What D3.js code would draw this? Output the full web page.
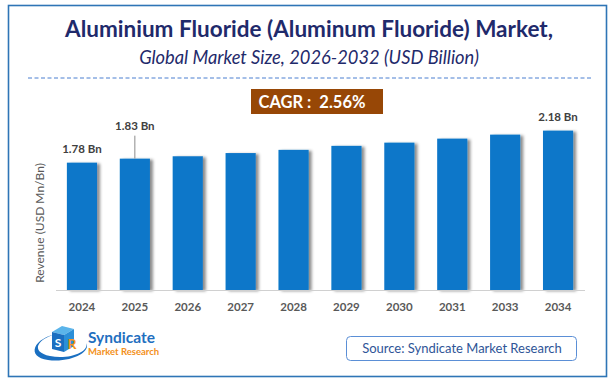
<!DOCTYPE html>
<html>
<head>
<meta charset="utf-8">
<script src="https://cdn.jsdelivr.net/npm/d3@7"></script>
<style>
    body { margin: 0; background: #fff; }
    svg text { font-family: Lato, "Open Sans", sans-serif; }
</style>
</head>
<body>
<svg id="chart" width="614" height="384"></svg>
<script>
    var years = ["2024", "2025", "2026", "2027", "2028", "2029", "2030", "2031", "2033", "2034"];
    var revenue = [1.78, 1.83, 1.86, 1.90, 1.94, 1.99, 2.03, 2.08, 2.13, 2.18];
    var labelled = {"2024": "1.78 Bn", "2025": "1.83 Bn", "2034": "2.18 Bn"};

    var svg = d3.select("#chart");

    // drop shadow on the bars
    var defs = svg.append("defs");
    var f = defs.append("filter").attr("id", "shadow")
        .attr("x", "-20%").attr("y", "-5%").attr("width", "150%").attr("height", "115%");
    f.append("feDropShadow").attr("dx", 3).attr("dy", 1).attr("stdDeviation", 1.4)
        .attr("flood-color", "#000").attr("flood-opacity", 0.45);

    // frame
    svg.append("rect").attr("x", 8.5).attr("y", 5.5).attr("width", 598).attr("height", 371)
        .attr("fill", "none").attr("stroke", "#2e75b6").attr("stroke-width", 1.6);

    svg.append("text").attr("x", 309).attr("y", 37).attr("text-anchor", "middle")
        .attr("font-size", 22.5).attr("font-weight", "bold").attr("fill", "#1f2a6b")
        .text("Aluminium Fluoride (Aluminum Fluoride) Market,");

    svg.append("text").attr("x", 309).attr("y", 64).attr("text-anchor", "middle")
        .attr("font-size", 18.3).attr("font-style", "italic").attr("fill", "#1f2a6b")
        .text("Global Market Size, 2026-2032 (USD Billion)");

    svg.append("line").attr("x1", 28).attr("x2", 591).attr("y1", 78).attr("y2", 78)
        .attr("stroke", "#4a7fd0").attr("stroke-width", 1).attr("stroke-dasharray", "4,2.5");

    // CAGR badge
    svg.append("rect").attr("x", 251).attr("y", 89).attr("width", 132).attr("height", 25)
        .attr("fill", "#974706");
    svg.append("text").attr("x", 312).attr("y", 108).attr("text-anchor", "middle")
        .attr("font-size", 16.5).attr("font-weight", "bold").attr("fill", "#fff")
        .attr("xml:space", "preserve")
        .text("CAGR :  2.56%");

    // chart
    var x = d3.scaleBand().domain(years).range([55.5, 584.5])
        .paddingInner(0.43).paddingOuter(0.215);
    var y = d3.scaleLinear().domain([0.19, 2.6]).range([290, 97]);

    svg.append("g").selectAll("rect").data(years).enter().append("rect")
        .attr("x", function (d) { return x(d); })
        .attr("y", function (d, i) { return y(revenue[i]); })
        .attr("width", x.bandwidth())
        .attr("height", function (d, i) { return 290 - y(revenue[i]); })
        .attr("fill", "#0a77c9")
        .attr("filter", "url(#shadow)");

    var xAxis = svg.append("g").attr("transform", "translate(0,290)")
        .call(d3.axisBottom(x).tickSize(0).tickPadding(13));
    xAxis.select(".domain").attr("stroke", "#d0d0d0").attr("stroke-width", 1);
    xAxis.selectAll("text").attr("font-size", 11.5).attr("font-weight", "bold")
        .attr("fill", "#595959").style("font-family", "Lato, 'Open Sans', sans-serif");

    // value labels
    svg.append("g").selectAll("text").data(years.filter(function (d) { return labelled[d]; }))
        .enter().append("text")
        .attr("x", function (d) { return x(d) + x.bandwidth() / 2; })
        .attr("y", function (d) {
            var v = revenue[years.indexOf(d)];
            return d === "2025" ? y(v) - 29 : y(v) - 10;
        })
        .attr("text-anchor", "middle").attr("font-size", 11.5).attr("font-weight", "bold")
        .attr("fill", "#404040")
        .text(function (d) { return labelled[d]; });

    svg.append("line")
        .attr("x1", x("2025") + x.bandwidth() / 2).attr("x2", x("2025") + x.bandwidth() / 2)
        .attr("y1", y(revenue[1]) - 23).attr("y2", y(revenue[1]))
        .attr("stroke", "#8c8c8c").attr("stroke-width", 1);

    svg.append("text").attr("transform", "translate(44,223) rotate(-90)")
        .attr("text-anchor", "middle").attr("font-size", 12).attr("fill", "#595959")
        .text("Revenue (USD Mn/Bn)");

    // logo
    var logo = svg.append("g");
    logo.append("path")
        .attr("d", "M60,333 C36,338 30,352 50,356 C68,360 90,352 86,343 C92,352 70,363 48,360 C26,357 32,338 60,333 Z")
        .attr("fill", "#1a6fc1");
    logo.append("path").attr("d", "M52,332 L62,326 L74,329 L64,335 Z").attr("fill", "#5ab4ea");
    logo.append("path").attr("d", "M52,332 L64,335 L64,352 L52,349 Z").attr("fill", "#1a6fc1");
    logo.append("path").attr("d", "M64,335 L74,329 L74,346 L64,352 Z").attr("fill", "#2b8fd8");
    logo.append("text").attr("x", 58).attr("y", 347).attr("text-anchor", "middle")
        .attr("font-size", 12).attr("font-weight", "bold").attr("fill", "#fff").text("S");
    logo.append("text").attr("x", 72).attr("y", 349).attr("text-anchor", "middle")
        .attr("font-size", 14).attr("font-weight", "bold").attr("fill", "#f7941d").text("R");
    logo.append("text").attr("x", 88).attr("y", 343).attr("font-size", 15.5)
        .attr("font-weight", "bold").attr("fill", "#1f6fc0").text("Syndicate");
    logo.append("text").attr("x", 88).attr("y", 355).attr("font-size", 9.5)
        .attr("font-weight", "bold").attr("fill", "#f39020").text("Market Research");

    // source box
    svg.append("rect").attr("x", 346.5).attr("y", 336.5).attr("width", 230).attr("height", 24)
        .attr("rx", 4).attr("fill", "#fff").attr("stroke", "#5b8fd6").attr("stroke-width", 1);
    svg.append("text").attr("x", 462).attr("y", 353).attr("text-anchor", "middle")
        .attr("font-size", 13).attr("fill", "#2f5597")
        .text("Source: Syndicate Market Research");
</script>
</body>
</html>
